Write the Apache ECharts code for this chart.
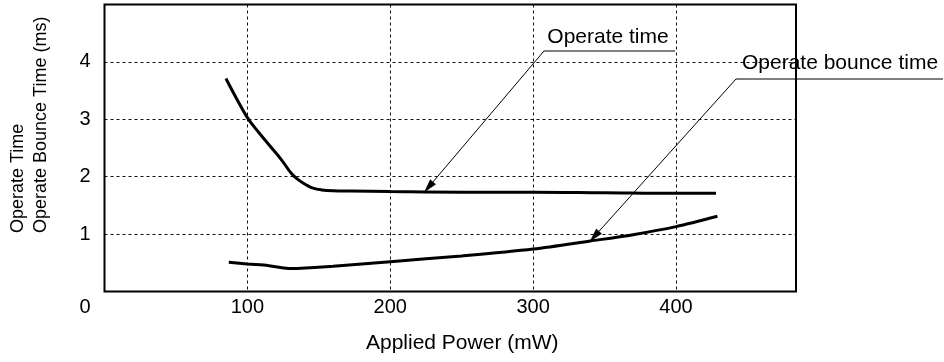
<!DOCTYPE html>
<html>
<head>
<meta charset="utf-8">
<script src="https://cdn.jsdelivr.net/npm/echarts@6/dist/echarts.min.js"></script>
<style>
  html, body { margin: 0; padding: 0; background: #fff; }
  #chart { width: 944px; height: 362px; }
</style>
</head>
<body>
<div id="chart"></div>
<script>
// Operate time vs. applied power
const powerOperate = [85, 92, 100, 108, 116, 124, 131, 136, 141, 146, 152, 160, 172, 200, 250, 300, 350, 400, 428];
const operateTime  = [3.71, 3.38, 3.03, 2.77, 2.53, 2.29, 2.05, 1.94, 1.86, 1.80, 1.77, 1.755, 1.75, 1.74, 1.73, 1.73, 1.72, 1.71, 1.71];

// Operate bounce time vs. applied power
const powerBounce = [87, 100, 115, 131, 160, 200, 250, 300, 340, 370, 400, 429];
const bounceTime  = [0.51, 0.48, 0.45, 0.40, 0.44, 0.52, 0.62, 0.74, 0.88, 0.99, 1.13, 1.31];

// Axis ranges and labelled ticks
const xTickLabels = [0, 100, 200, 300, 400];
const yTickLabels = [1, 2, 3, 4];
const xMax = 484;
const yMax = 5;

// Callout texts and the power each arrow points at
const calloutTexts = ['Operate time', 'Operate bounce time'];
const calloutPower = [224, 340];

const FONT = '"Liberation Sans", Arial, Helvetica, sans-serif';

const zip = (xs, ys) => xs.map((x, i) => [x, ys[i]]);
const interp = (xs, ys, x) => {
  for (let i = 1; i < xs.length; i++) {
    if (x <= xs[i]) {
      const t = (x - xs[i - 1]) / (xs[i] - xs[i - 1]);
      return ys[i - 1] + t * (ys[i] - ys[i - 1]);
    }
  }
  return ys[ys.length - 1];
};

const chart = echarts.init(document.getElementById('chart'), null, { renderer: 'canvas' });

const gridLine = { show: true, showMinLine: false, showMaxLine: false,
  lineStyle: { color: '#111', width: 1, type: [3, 3] } };

chart.setOption({
  animation: false,
  backgroundColor: '#fff',
  grid: {
    left: 104.5, top: 4.5, width: 691.5, height: 287,
    show: true, borderColor: '#000', borderWidth: 2, backgroundColor: 'transparent',
    z: 5
  },
  xAxis: {
    type: 'value', min: 0, max: xMax, interval: 100,
    name: 'Applied Power (mW)', nameLocation: 'middle', nameGap: 41,
    nameTextStyle: { fontFamily: FONT, fontSize: 21, color: '#000', padding: [0, 0, 0, 24] },
    axisLine: { show: false }, axisTick: { show: false },
    axisLabel: {
      margin: 6, fontFamily: FONT, fontSize: 20, color: '#000',
      formatter: v => {
        if (!xTickLabels.includes(v)) return '';
        return v === 0 ? '{o|0}' : String(v);
      },
      rich: { o: { fontFamily: FONT, fontSize: 20, color: '#000', padding: [0, 39, 0, 0] } }
    },
    splitLine: gridLine
  },
  yAxis: {
    type: 'value', min: 0, max: yMax, interval: 1,
    axisLine: { show: false }, axisTick: { show: false },
    axisLabel: {
      margin: 14, fontFamily: FONT, fontSize: 20, color: '#000',
      formatter: v => yTickLabels.includes(v) ? String(v) : ''
    },
    splitLine: gridLine
  },
  series: [
    {
      name: 'Operate time', type: 'line', data: zip(powerOperate, operateTime),
      showSymbol: false, smooth: 0.4,
      lineStyle: { color: '#000', width: 3 }, z: 3
    },
    {
      name: 'Operate bounce time', type: 'line', data: zip(powerBounce, bounceTime),
      showSymbol: false, smooth: 0.3,
      lineStyle: { color: '#000', width: 3 }, z: 3
    }
  ]
});

// Callout placement: text centre, elbow of the leader, end of the underline shelf
const calloutLayout = [
  { textX: 608, textY: 37, elbowX: 544, elbowY: 51, shelfEnd: 675 },
  { textX: 840, textY: 63, elbowX: 736, elbowY: 79, shelfEnd: 943 }
];
const seriesFor = [[powerOperate, operateTime], [powerBounce, bounceTime]];

const graphics = [];
calloutTexts.forEach((label, i) => {
  const L = calloutLayout[i];
  const [xs, ys] = seriesFor[i];
  const p = calloutPower[i];
  const tip = chart.convertToPixel({ gridIndex: 0 }, [p, interp(xs, ys, p)]);
  const dx = tip[0] - L.elbowX, dy = tip[1] - L.elbowY;
  const len = Math.hypot(dx, dy);
  const ux = dx / len, uy = dy / len;
  const headLen = 13, headHalf = 3.5;
  const bx = tip[0] - ux * headLen, by = tip[1] - uy * headLen;
  const nx = -uy, ny = ux;

  graphics.push({
    type: 'polyline', z: 20, silent: true,
    shape: { points: [[L.shelfEnd, L.elbowY], [L.elbowX, L.elbowY], [bx, by]] },
    style: { stroke: '#000', lineWidth: 1, fill: null }
  });
  graphics.push({
    type: 'polygon', z: 20, silent: true,
    shape: { points: [tip, [bx + nx * headHalf, by + ny * headHalf], [bx - nx * headHalf, by - ny * headHalf]] },
    style: { fill: '#000', stroke: '#000', lineWidth: 0.5 }
  });
  graphics.push({
    type: 'text', z: 20, silent: true, x: L.textX, y: L.textY,
    style: { text: label, font: '21px ' + FONT, fill: '#000',
      align: 'center', verticalAlign: 'middle', textAlign: 'center', textVerticalAlign: 'middle' }
  });
});

// Two-line vertical axis title, both lines starting from the same baseline point
graphics.push({
  type: 'text', z: 20, silent: true, x: 30, y: 233, rotation: Math.PI / 2,
  style: {
    text: 'Operate Time\nOperate Bounce Time (ms)', font: '18px ' + FONT, fill: '#000', lineHeight: 23,
    align: 'left', verticalAlign: 'middle', textAlign: 'left', textVerticalAlign: 'middle'
  }
});

chart.setOption({ graphic: { elements: graphics } });
</script>
</body>
</html>
